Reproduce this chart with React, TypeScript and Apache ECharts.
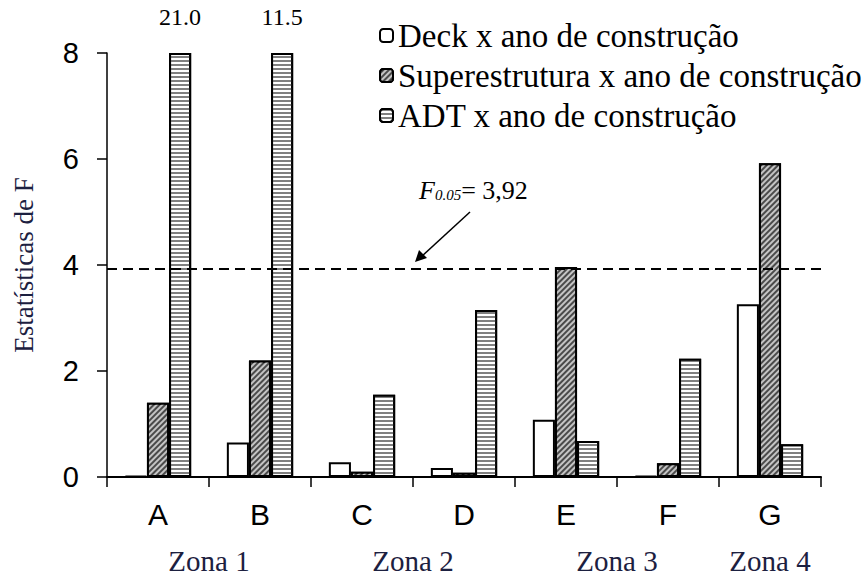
import React, { useEffect, useRef } from "react";
import * as echarts from "echarts";

const categories = ["A", "B", "C", "D", "E", "F", "G"];
const zoneLabels = ["Zona 1", "Zona 2", "Zona 3", "Zona 4"];
// zone label anchors: [leftCategoryIndex, rightCategoryIndex] (centre between them)
const zoneAnchors = [[0, 1], [2, 3], [4, 5], [6, 6]];
const deckValues = [0.02, 0.65, 0.28, 0.17, 1.08, 0.02, 3.26];
const superValues = [1.4, 2.2, 0.1, 0.08, 3.96, 0.26, 5.92];
const adtValues = [21.0, 11.5, 1.55, 3.15, 0.68, 2.23, 0.62];
const yTicks = { min: 0, max: 8, interval: 2 };
const fCritical = 3.92;
const seriesNames = [
  "Deck x ano de construção",
  "Superestrutura x ano de construção",
  "ADT x ano de construção",
];

const serif = "Liberation Serif";
const sans = "Liberation Sans";

export default function App() {
  const ref = useRef<HTMLDivElement>(null);
  useEffect(() => {
    document.body.style.margin = "0";
    const chart = echarts.init(ref.current!, null, { renderer: "svg" });
    const clip = (v: number) => Math.min(v, yTicks.max);
    const itemBase = { borderColor: "#000", borderWidth: 2 };
    chart.setOption({
      animation: false,
      backgroundColor: "#fff",
      grid: { left: 107, right: 43, top: 53, bottom: 102 },
      legend: {
        orient: "vertical",
        left: 374,
        top: 14,
        itemGap: 7,
        itemWidth: 13,
        itemHeight: 13,
        textStyle: { fontFamily: serif, fontSize: 33, color: "#000" },
        data: seriesNames,
      },
      xAxis: {
        type: "category",
        data: categories,
        axisLine: { lineStyle: { color: "#000", width: 2 } },
        axisTick: { show: true, length: 10, lineStyle: { color: "#000", width: 1.5 } },
        axisLabel: { fontFamily: sans, fontSize: 30, color: "#000", margin: 22 },
      },
      yAxis: {
        type: "value",
        min: yTicks.min,
        max: yTicks.max,
        interval: yTicks.interval,
        name: "Estatísticas de F",
        nameLocation: "middle",
        nameGap: 70,
        nameTextStyle: { fontFamily: serif, fontSize: 27, color: "#1c2040" },
        splitLine: { show: false },
        axisLine: { show: true, lineStyle: { color: "#000", width: 1.5 } },
        axisTick: { show: true, length: 10, lineStyle: { color: "#000", width: 1.5 } },
        axisLabel: { fontFamily: sans, fontSize: 29, color: "#000", margin: 28 },
      },
      series: [
        {
          name: seriesNames[0],
          type: "bar",
          barGap: "0%",
          barCategoryGap: "35%",
          data: deckValues,
          itemStyle: { ...itemBase, color: "#fff" },
        },
        {
          name: seriesNames[1],
          type: "bar",
          data: superValues,
          itemStyle: {
            ...itemBase,
            color: "#4a4a4a",
            decal: {
              symbol: "rect",
              symbolSize: 1,
              dashArrayX: [1, 0],
              dashArrayY: [1.2, 1.6],
              rotation: -Math.PI / 4,
              color: "#c4c4c4",
            },
          },
        },
        {
          name: seriesNames[2],
          type: "bar",
          data: adtValues.map((v) => ({ value: clip(v), raw: v })),
          itemStyle: {
            ...itemBase,
            color: "#fff",
            decal: {
              symbol: "rect",
              symbolSize: 1,
              dashArrayX: [1, 0],
              dashArrayY: [2, 2],
              rotation: 0,
              color: "#808080",
            },
          },
          label: {
            show: true,
            position: "top",
            distance: 24,
            fontFamily: serif,
            fontSize: 24,
            color: "#000",
            formatter: (p: any) => (p.data.raw > yTicks.max ? p.data.raw.toFixed(1) : ""),
          },
          markLine: {
            silent: true,
            symbol: "none",
            label: { show: false },
            lineStyle: { color: "#000", type: [10, 6], width: 2 },
            data: [{ yAxis: fCritical }],
          },
        },
      ],
    });

    const zoneY = 561;
    const zoneGraphics = zoneLabels.map((t, i) => {
      const [a, b] = zoneAnchors[i];
      const xa = chart.convertToPixel({ xAxisIndex: 0 }, categories[a]) as number;
      const xb = chart.convertToPixel({ xAxisIndex: 0 }, categories[b]) as number;
      return {
        type: "text",
        x: (xa + xb) / 2,
        y: zoneY,
        style: {
          text: t,
          fontFamily: serif,
          fontSize: 29,
          fill: "#1c2040",
          align: "center",
          verticalAlign: "middle",
        },
      };
    });

    chart.setOption({
      graphic: [
        ...zoneGraphics,
        {
          type: "text",
          x: 419,
          y: 190,
          style: {
            text: "{f|F}{s|0.05}{n|= 3,92}",
            verticalAlign: "middle",
            rich: {
              f: { fontFamily: serif, fontStyle: "italic", fontSize: 26, fill: "#000" },
              s: { fontFamily: serif, fontStyle: "italic", fontSize: 15, fill: "#000", padding: [9, 0, 0, 0] },
              n: { fontFamily: serif, fontSize: 26, fill: "#000" },
            },
          },
        },
        {
          type: "line",
          shape: { x1: 470, y1: 212, x2: 421, y2: 257 },
          style: { stroke: "#000", lineWidth: 1.5 },
        },
        {
          type: "polygon",
          shape: { points: [[415, 262], [419, 250], [427, 258]] },
          style: { fill: "#000" },
        },
      ],
    });
    return () => chart.dispose();
  }, []);
  return <div ref={ref} style={{ width: 864, height: 579 }} />;
}
